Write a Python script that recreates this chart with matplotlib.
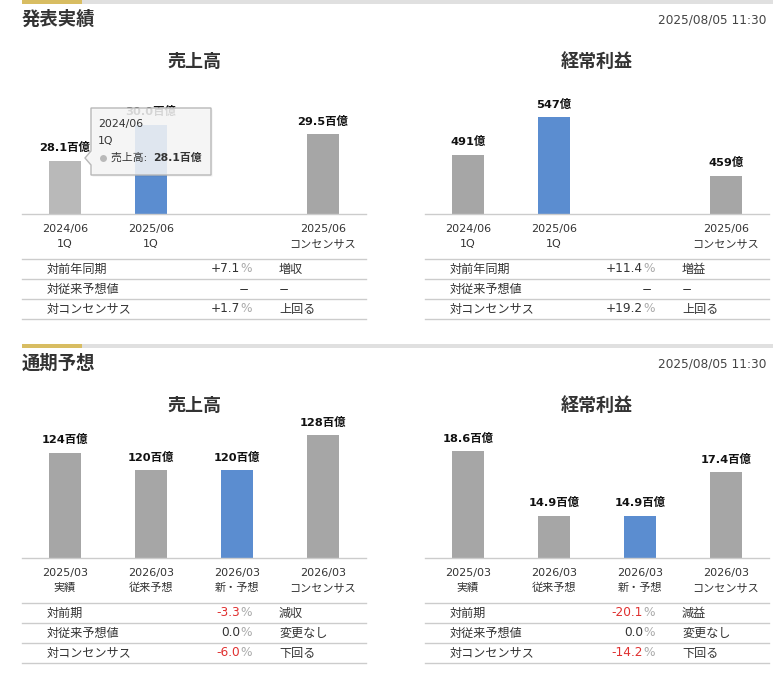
import matplotlib
matplotlib.use('Agg')
import matplotlib.pyplot as plt
from matplotlib.patches import Polygon, Rectangle
from matplotlib.lines import Line2D

plt.rcParams['font.family'] = ['DejaVu Sans', 'Noto Sans CJK JP']

# ---------------- data ----------------
section_titles = ['発表実績', '通期予想']
timestamp = '2025/08/05 11:30'
chart_titles = ['売上高', '経常利益']

q_cats = [('2024/06', '1Q'), ('2025/06', '1Q'), ('', ''), ('2025/06', 'コンセンサス')]
q_sales = [28.1, 30.0, None, 29.5]
q_sales_lbl = ['28.1百億', '30.0百億', '', '29.5百億']
q_profit = [491, 547, None, 459]
q_profit_lbl = ['491億', '547億', '', '459億']

f_cats = [('2025/03', '実績'), ('2026/03', '従来予想'), ('2026/03', '新・予想'), ('2026/03', 'コンセンサス')]
f_sales = [124, 120, 120, 128]
f_sales_lbl = ['124百億', '120百億', '120百億', '128百億']
f_profit = [18.6, 14.9, 14.9, 17.4]
f_profit_lbl = ['18.6百億', '14.9百億', '14.9百億', '17.4百億']

q_rows = ['対前年同期', '対従来予想値', '対コンセンサス']
q_sales_chg = [7.1, None, 1.7]
q_sales_status = ['増収', '−', '上回る']
q_profit_chg = [11.4, None, 19.2]
q_profit_status = ['増益', '−', '上回る']

f_rows = ['対前期', '対従来予想値', '対コンセンサス']
f_sales_chg = [-3.3, 0.0, -6.0]
f_sales_status = ['減収', '変更なし', '下回る']
f_profit_chg = [-20.1, 0.0, -14.2]
f_profit_status = ['減益', '変更なし', '下回る']

# ---------------- style ----------------
GRAY = '#a6a6a6'
HOVER = '#b9b9b9'
BLUE = '#5b8dd0'
TXT = '#333333'
LINE = '#cccccc'
GOLD = '#d8bd62'
RED = '#e03030'

W, H = 773, 673
fig = plt.figure(figsize=(W / 100, H / 100), dpi=100)
fig.patch.set_facecolor('white')


def draw_chart(left, baseline, vals, labels, cats, colors, y0, ppu):
    width = 344
    top = baseline - 150
    ax = fig.add_axes([left / W, 1 - baseline / H, width / W, (baseline - top) / H])
    ax.set_xlim(-0.5, 3.5)
    ax.set_ylim(y0, y0 + (baseline - top) / ppu)
    xs = [i for i, v in enumerate(vals) if v is not None]
    hs = [vals[i] for i in xs]
    cs = [colors[i] for i in xs]
    ax.bar(xs, hs, width=32 / 86, color=cs, zorder=2)
    for i in xs:
        ax.annotate(labels[i], xy=(i, vals[i]), xytext=(0, 9.5), textcoords='offset points',
                    ha='center', va='center', fontsize=8.2, fontweight='bold', color='#111111')
    for i, (l1, l2) in enumerate(cats):
        ax.annotate(l1, xy=(i, 0), xycoords=('data', 'axes fraction'), xytext=(0, -10.8),
                    textcoords='offset points', ha='center', va='center', fontsize=8, color=TXT)
        ax.annotate(l2, xy=(i, 0), xycoords=('data', 'axes fraction'), xytext=(0, -21.5),
                    textcoords='offset points', ha='center', va='center', fontsize=8, color=TXT)
    for s in ['top', 'left', 'right']:
        ax.spines[s].set_visible(False)
    ax.spines['bottom'].set_color(LINE)
    ax.spines['bottom'].set_linewidth(1)
    ax.set_xticks([])
    ax.set_yticks([])
    ax.patch.set_alpha(0)
    return ax


# top section charts
draw_chart(22, 214, q_sales, q_sales_lbl, q_cats, [HOVER, BLUE, GRAY, GRAY], 25.3, 19.0)
draw_chart(425, 214, q_profit, q_profit_lbl, q_cats, [GRAY, BLUE, GRAY, GRAY], 402, 0.666)
# bottom section charts
draw_chart(22, 558, f_sales, f_sales_lbl, f_cats, [GRAY, GRAY, BLUE, GRAY], 100, 4.38)
draw_chart(425, 558, f_profit, f_profit_lbl, f_cats, [GRAY, GRAY, BLUE, GRAY], 12.5, 17.5)

# ---------------- overlay (pixel coords) ----------------
ov = fig.add_axes([0, 0, 1, 1], zorder=10)
ov.set_xlim(0, W)
ov.set_ylim(H, 0)
ov.axis('off')
ov.patch.set_alpha(0)


def fmt(v):
    if v is None:
        return None
    if v > 0:
        return '+%.1f' % v
    return '%.1f' % v


def draw_table(left, baseline, rows, chg, status):
    for dy in (45, 65, 85, 105):
        ov.add_line(Line2D([left, left + 344], [baseline + dy, baseline + dy], color=LINE, lw=1))
    for k, (r, c, st) in enumerate(zip(rows, chg, status)):
        y = baseline + 55 + 20 * k
        ov.text(left + 25, y, r, ha='left', va='center', fontsize=8.7, color=TXT)
        s = fmt(c)
        if s is None:
            ov.text(left + 227, y, '−', ha='right', va='center', fontsize=8.7, color=TXT)
        else:
            col = RED if c < 0 else TXT
            ov.text(left + 218, y, s, ha='right', va='center', fontsize=8.7, color=col)
            ov.text(left + 218, y, '%', ha='left', va='center', fontsize=8.7, color='#aaaaaa')
        ov.text(left + 257, y, st, ha='left', va='center', fontsize=8.7, color=TXT)


for s_idx, y_off in enumerate((0, 344)):
    ov.add_patch(Rectangle((22, y_off), 60, 4, color=GOLD, lw=0))
    ov.add_patch(Rectangle((82, y_off), W - 82, 4, color='#e0e0e0', lw=0))
    ov.text(22, y_off + 20, section_titles[s_idx], ha='left', va='center',
            fontsize=13.2, fontweight='bold', color=TXT)
    ov.text(766, y_off + 20, timestamp, ha='right', va='center', fontsize=8.7, color='#444444')
    ov.text(194, y_off + 62, chart_titles[0], ha='center', va='center',
            fontsize=13, fontweight='bold', color=TXT)
    ov.text(597, y_off + 62, chart_titles[1], ha='center', va='center',
            fontsize=13, fontweight='bold', color=TXT)

draw_table(22, 214, q_rows, q_sales_chg, q_sales_status)
draw_table(425, 214, q_rows, q_profit_chg, q_profit_status)
draw_table(22, 558, f_rows, f_sales_chg, f_sales_status)
draw_table(425, 558, f_rows, f_profit_chg, f_profit_status)

# tooltip (hover state in the reference)
tip = [(91, 108), (211, 108), (211, 175), (91, 175), (91, 165), (85, 158), (91, 151)]
ov.add_patch(Polygon([(x + 1.5, y + 1.5) for x, y in tip], closed=True,
                     fc=(0, 0, 0, 0.06), ec='none'))
ov.add_patch(Polygon(tip, closed=True, fc=(0.97, 0.97, 0.97, 0.86), ec='#b8b8b8', lw=1))
ov.text(98, 124, q_cats[0][0], ha='left', va='center', fontsize=7.8, color=TXT)
ov.text(98, 141, q_cats[0][1], ha='left', va='center', fontsize=7.8, color=TXT)
ov.plot([103], [158], marker='o', ms=5, color=HOVER, mec='none')
ov.text(111, 158, chart_titles[0] + ': ', ha='left', va='center', fontsize=7.8, color=TXT)
ov.text(153, 158, q_sales_lbl[0], ha='left', va='center', fontsize=7.8,
        fontweight='bold', color=TXT)

fig.savefig('out.png', dpi=100, facecolor='white')
